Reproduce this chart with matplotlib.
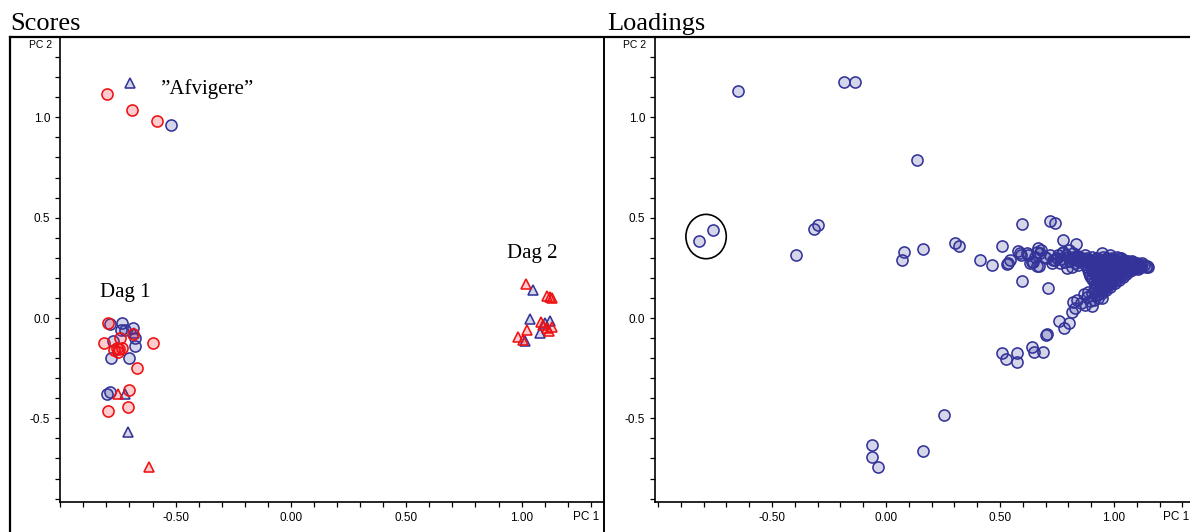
import matplotlib.pyplot as plt
from matplotlib.lines import Line2D
from matplotlib.patches import Ellipse
from matplotlib.ticker import MultipleLocator, FormatStrFormatter

plt.rcParams['axes.unicode_minus'] = False
plt.rcParams['font.family'] = ['Liberation Sans', 'DejaVu Sans']

# Scores (PC1, PC2)
red_circ_pc1 = [-0.796, -0.690, -0.580, -0.792, -0.684, -0.809, -0.741, -0.756, -0.746,
                -0.734, -0.766, -0.749, -0.597, -0.669, -0.702, -0.795, -0.708]
red_circ_pc2 = [1.116, 1.036, 0.982, -0.026, -0.081, -0.126, -0.101, -0.148, -0.154,
                -0.148, -0.159, -0.168, -0.126, -0.251, -0.359, -0.462, -0.445]

blue_circ_pc1 = [-0.520, -0.786, -0.734, -0.737, -0.720, -0.684, -0.676, -0.770, -0.676,
                 -0.780, -0.702, -0.799, -0.785]
blue_circ_pc2 = [0.962, -0.031, -0.026, -0.060, -0.060, -0.051, -0.101, -0.115, -0.138,
                 -0.198, -0.201, -0.379, -0.367]

blue_tri_pc1 = [-0.698, -0.680, -0.720, -0.708, 1.050, 1.036, 1.101, 1.123, 1.079, 1.014]
blue_tri_pc2 = [1.172, -0.076, -0.379, -0.566, 0.140, -0.007, -0.026, -0.013, -0.073, -0.115]

red_tri_pc1 = [-0.751, -0.616, 1.019, 1.111, 1.123, 1.131, 1.082, 1.094, 1.108, 1.120,
               1.130, 0.985, 1.007, 1.024]
red_tri_pc2 = [-0.379, -0.744, 0.169, 0.110, 0.103, 0.098, -0.018, -0.035, -0.051, -0.063,
               -0.043, -0.096, -0.110, -0.060]

# Loadings (PC1, PC2)
far_pc1 = [-0.819, -0.757, -0.648, -0.186, -0.136, 0.136, -0.393, -0.317, -0.300, 0.069,
           0.080, 0.162, 0.303, 0.320, 0.412, -0.060, -0.060, -0.034, 0.162, 0.254,
           0.596, 0.719, 0.741, 0.466, 0.510, 0.595, 0.712]
far_pc2 = [0.384, 0.438, 1.131, 1.174, 1.174, 0.789, 0.316, 0.443, 0.463, 0.291,
           0.327, 0.345, 0.375, 0.357, 0.291, -0.631, -0.694, -0.744, -0.661, -0.483,
           0.468, 0.485, 0.475, 0.264, 0.359, 0.184, 0.148]

band_pc1 = [0.537, 0.544, 0.532, 0.580, 0.588, 0.590, 0.617, 0.624, 0.632, 0.639, 0.646,
            0.654, 0.661, 0.661, 0.668, 0.672, 0.675, 0.680, 0.697, 0.700, 0.719, 0.727,
            0.734, 0.741, 0.756, 0.763, 0.771, 0.778, 0.778, 0.785, 0.793, 0.800, 0.803,
            0.814, 0.822, 0.825, 0.832, 0.836, 0.844, 0.873, 0.902, 0.946, 0.982, 1.026,
            1.114, 1.150, 0.748, 0.766, 0.789, 0.808, 0.818, 0.829, 0.841, 0.852]
band_pc2 = [0.276, 0.289, 0.270, 0.335, 0.322, 0.314, 0.322, 0.314, 0.273, 0.281, 0.281,
            0.306, 0.330, 0.259, 0.347, 0.259, 0.322, 0.340, 0.306, 0.297, 0.314, 0.273,
            0.289, 0.289, 0.314, 0.273, 0.322, 0.389, 0.330, 0.281, 0.248, 0.306, 0.339,
            0.256, 0.322, 0.306, 0.367, 0.289, 0.264, 0.314, 0.198, 0.322, 0.314, 0.297,
            0.256, 0.253, 0.301, 0.293, 0.312, 0.284, 0.297, 0.276, 0.309, 0.288]

arm_pc1 = [0.507, 0.526, 0.576, 0.576, 0.639, 0.649, 0.690, 0.702, 0.707, 0.759, 0.781,
           0.804, 0.814, 0.829, 0.822, 0.836, 0.854, 0.873, 0.880, 0.887, 0.902, 0.910,
           0.924, 0.946, 0.939, 0.953, 0.917, 0.931, 0.866, 0.894, 0.905]
arm_pc2 = [-0.173, -0.206, -0.176, -0.218, -0.143, -0.168, -0.168, -0.085, -0.080, -0.015,
           -0.051, -0.026, 0.031, 0.048, 0.081, 0.090, 0.073, 0.065, 0.106, 0.131, 0.060,
           0.090, 0.115, 0.098, 0.148, 0.165, 0.140, 0.098, 0.118, 0.083, 0.124]

core_pc1 = [0.860, 0.882, 0.905, 0.926, 0.951, 0.968, 0.992, 1.011, 1.031,
            0.871, 0.889, 0.912, 0.934, 0.957, 0.974, 0.996, 1.016, 1.038, 1.061, 1.079,
            0.876, 0.897, 0.918, 0.941, 0.962, 0.984, 1.006, 1.024, 1.047, 1.068, 1.091,
            1.108, 1.131,
            0.881, 0.903, 0.924, 0.946, 0.967, 0.989, 1.012, 1.029, 1.056, 1.074, 1.096,
            1.118, 1.139,
            0.886, 0.908, 0.931, 0.952, 0.974, 0.997, 1.019, 1.042, 1.063, 1.086, 1.104,
            0.891, 0.913, 0.936, 0.958, 0.981, 1.002, 1.024, 1.049, 1.068,
            0.896, 0.921, 0.942, 0.964, 0.988, 1.011, 1.033, 1.054,
            0.904, 0.927, 0.949, 0.973, 0.994, 1.018, 1.039,
            0.914, 0.936, 0.958, 0.981, 1.003, 1.022,
            0.921, 0.944, 0.966, 0.987, 1.004,
            0.918, 0.939, 0.961, 0.982,
            0.925, 0.947, 0.963,
            0.931, 0.949,
            0.852, 0.847, 0.839]
core_pc2 = [0.301, 0.298, 0.303, 0.299, 0.302, 0.297, 0.300, 0.302, 0.298,
            0.286, 0.284, 0.287, 0.283, 0.286, 0.285, 0.288, 0.284, 0.286, 0.283, 0.285,
            0.271, 0.269, 0.272, 0.268, 0.271, 0.270, 0.272, 0.269, 0.271, 0.268, 0.270,
            0.267, 0.266,
            0.256, 0.254, 0.257, 0.253, 0.256, 0.255, 0.254, 0.257, 0.255, 0.253, 0.256,
            0.254, 0.255,
            0.241, 0.238, 0.242, 0.239, 0.241, 0.240, 0.242, 0.239, 0.241, 0.243, 0.246,
            0.226, 0.224, 0.227, 0.223, 0.226, 0.225, 0.228, 0.231, 0.234,
            0.211, 0.209, 0.212, 0.208, 0.211, 0.214, 0.216, 0.221,
            0.196, 0.194, 0.197, 0.199, 0.195, 0.201, 0.206,
            0.181, 0.179, 0.183, 0.180, 0.184, 0.190,
            0.166, 0.164, 0.167, 0.169, 0.175,
            0.151, 0.149, 0.152, 0.156,
            0.136, 0.134, 0.139,
            0.121, 0.124,
            0.279, 0.297, 0.311]

# second, offset layer of loadings inside the dense wedge
inner_pc1 = [0.871, 0.893, 0.915, 0.938, 0.960, 0.981, 1.002, 1.021, 1.043,
             0.886, 0.907, 0.929, 0.949, 0.972, 0.993, 1.014, 1.035, 1.058, 1.077, 1.099, 1.121,
             0.893, 0.914, 0.936, 0.957, 0.978, 1.001, 1.020, 1.044, 1.065, 1.085, 1.112, 1.143,
             0.899, 0.919, 0.941, 0.963, 0.986, 1.008, 1.031, 1.052, 1.076, 1.095,
             0.903, 0.925, 0.947, 0.969, 0.992, 1.013, 1.036, 1.058,
             0.915, 0.938, 0.960, 0.983, 1.006, 1.028,
             0.926, 0.948, 0.971, 0.993, 1.012,
             0.929, 0.952, 0.974, 0.994,
             0.933, 0.955, 0.971,
             0.938, 0.957]
inner_pc2 = [0.293, 0.291, 0.294, 0.290, 0.292, 0.295, 0.291, 0.293, 0.290,
             0.278, 0.276, 0.279, 0.277, 0.278, 0.275, 0.279, 0.277, 0.276, 0.278, 0.275, 0.272,
             0.263, 0.261, 0.264, 0.262, 0.263, 0.260, 0.264, 0.262, 0.261, 0.263, 0.261, 0.258,
             0.248, 0.246, 0.249, 0.247, 0.248, 0.246, 0.249, 0.247, 0.249, 0.251,
             0.233, 0.231, 0.234, 0.232, 0.233, 0.236, 0.238, 0.240,
             0.218, 0.216, 0.219, 0.217, 0.221, 0.226,
             0.203, 0.201, 0.204, 0.207, 0.211,
             0.188, 0.186, 0.189, 0.193,
             0.173, 0.171, 0.176,
             0.158, 0.156]

RED_EDGE = '#ee1111'
RED_FILL = (1.0, 0.1, 0.15, 0.22)
BLUE_EDGE = '#333399'
BLUE_FILL = (0.2, 0.2, 0.6, 0.2)

fig = plt.figure(figsize=(11.9, 5.32), dpi=100)
W, H = 1190, 532


def make_axes(left_px, right_px, xlim):
    ax = fig.add_axes([left_px / W, (H - 502) / H, (right_px - left_px) / W, (502 - 37.5) / H])
    ax.set_xlim(*xlim)
    ax.set_ylim(-0.917, 1.398)
    for s in ('top', 'right'):
        ax.spines[s].set_visible(False)
    for s in ('left', 'bottom'):
        ax.spines[s].set_linewidth(1.2)
    ax.set_xticks([-0.5, 0.0, 0.5, 1.0])
    ax.set_yticks([-0.5, 0.0, 0.5, 1.0])
    ax.xaxis.set_minor_locator(MultipleLocator(0.1))
    ax.yaxis.set_minor_locator(MultipleLocator(0.1))
    ax.xaxis.set_major_formatter(FormatStrFormatter('%.2f'))
    ax.yaxis.set_major_formatter(FormatStrFormatter('%.1f'))
    ax.tick_params(which='both', direction='out', length=3.5, width=0.9, labelsize=8.5, pad=3.5)
    return ax


def scatter(ax, x, y, marker, edge, fill, size):
    ax.plot(x, y, linestyle='none', marker=marker, markersize=size,
            markeredgecolor=edge, markerfacecolor=fill, markeredgewidth=1.15, clip_on=False)


# Scores panel
ax1 = make_axes(60, 604, (-1.001, 1.357))
scatter(ax1, blue_circ_pc1, blue_circ_pc2, 'o', BLUE_EDGE, BLUE_FILL, 8)
scatter(ax1, blue_tri_pc1, blue_tri_pc2, '^', BLUE_EDGE, BLUE_FILL, 7.8)
scatter(ax1, red_circ_pc1, red_circ_pc2, 'o', RED_EDGE, RED_FILL, 8)
scatter(ax1, red_tri_pc1, red_tri_pc2, '^', RED_EDGE, RED_FILL, 7.8)

serif = ['Liberation Serif', 'DejaVu Serif']
ax1.text(-0.568, 1.116, '\u201dAfvigere\u201d', family=serif, fontsize=15, va='baseline')
ax1.text(-0.828, 0.105, 'Dag 1', family=serif, fontsize=15, va='baseline')
ax1.text(0.936, 0.299, 'Dag 2', family=serif, fontsize=15, va='baseline')

# Loadings panel
ax2 = make_axes(655, 1190, (-1.013, 1.333))
for lx, ly in ((far_pc1, far_pc2), (band_pc1, band_pc2), (arm_pc1, arm_pc2),
               (core_pc1, core_pc2), (inner_pc1, inner_pc2)):
    scatter(ax2, lx, ly, 'o', BLUE_EDGE, BLUE_FILL, 8)
ax2.add_patch(Ellipse((-0.789, 0.406), 0.177, 0.221, fill=False, edgecolor='black', linewidth=1.2))

# Axis name labels in the corners
for ax, pc1_x, pc2_x in ((ax1, 0.943, -0.015), (ax2, 0.950, -0.017)):
    ax.text(pc2_x, 0.983, 'PC 2', transform=ax.transAxes, fontsize=7.5, ha='right', va='center')
    ax.text(pc1_x, -0.032, 'PC 1', transform=ax.transAxes, fontsize=8.5, ha='left', va='center',
            clip_on=False)

# Frame lines
fig.add_artist(Line2D([10 / W, 1.0], [1 - 37 / H] * 2, color='black', lw=1.6))
fig.add_artist(Line2D([10 / W] * 2, [0, 1 - 37 / H], color='black', lw=1.6))
fig.add_artist(Line2D([604 / W] * 2, [0, 1 - 37 / H], color='black', lw=1.4))

fig.text(10 / W, 1 - 30 / H, 'Scores', family=serif, fontsize=19, va='baseline')
fig.text(607 / W, 1 - 30 / H, 'Loadings', family=serif, fontsize=19, va='baseline')

fig.savefig('out.png', dpi=100)
